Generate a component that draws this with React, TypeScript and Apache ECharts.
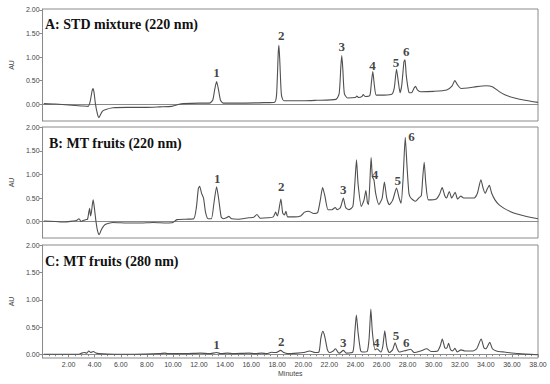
import React, { useEffect, useRef } from "react";
import * as echarts from "echarts";

// Chromatogram traces: [retention time (min), absorbance (AU)]
const stdMixture220: [number, number][] = [
  [0.1, 0.01], [1.0, 0.0], [2.0, -0.02], [3.0, -0.04], [3.5, -0.05], [3.65, 0.05], [3.8, 0.28], [3.87, 0.33],
  [3.95, 0.25], [4.05, 0.02], [4.2, -0.2], [4.33, -0.29], [4.45, -0.22], [4.6, -0.15], [4.8, -0.12], [5.4, -0.08],
  [6.5, -0.07], [8.0, -0.07], [9.0, -0.06], [9.9, -0.05], [10.4, -0.01], [10.8, 0.01], [12.0, 0.02], [12.8, 0.02],
  [13.05, 0.08], [13.2, 0.3], [13.35, 0.48], [13.5, 0.3], [13.65, 0.08], [13.85, 0.02], [15.0, 0.02], [17.0, 0.03],
  [17.8, 0.04], [17.95, 0.2], [18.08, 1.1], [18.13, 1.25], [18.2, 0.9], [18.32, 0.2], [18.5, 0.07], [20.0, 0.07],
  [21.0, 0.08], [22.5, 0.1], [22.75, 0.22], [22.88, 0.8], [22.95, 1.03], [23.03, 0.75], [23.15, 0.22], [23.4, 0.13],
  [24.0, 0.14], [24.1, 0.17], [24.25, 0.14], [24.5, 0.16], [24.6, 0.2], [24.75, 0.16], [25.1, 0.18], [25.22, 0.45],
  [25.33, 0.69], [25.45, 0.4], [25.6, 0.19], [26.2, 0.19], [26.8, 0.21], [26.98, 0.35], [27.15, 0.74], [27.3, 0.45],
  [27.42, 0.24], [27.55, 0.4], [27.72, 0.9], [27.8, 0.94], [27.9, 0.6], [28.1, 0.25], [28.3, 0.24], [28.5, 0.34],
  [28.6, 0.38], [28.75, 0.3], [29.0, 0.26], [30.0, 0.27], [31.0, 0.3], [31.4, 0.38], [31.62, 0.5], [31.8, 0.42],
  [32.1, 0.33], [32.6, 0.34], [33.3, 0.37], [34.0, 0.39], [34.5, 0.37], [35.0, 0.27], [35.5, 0.19], [36.2, 0.13],
  [37.0, 0.08], [38.0, 0.035],
];

const mtFruits220: [number, number][] = [
  [0.1, 0.01], [1.0, 0.0], [1.7, -0.01], [2.3, 0.01], [2.6, 0.02], [2.8, 0.06], [2.95, 0.0], [3.1, 0.02],
  [3.3, 0.04], [3.45, 0.05], [3.55, 0.2], [3.61, 0.28], [3.68, 0.12], [3.75, 0.2], [3.88, 0.46], [3.95, 0.35],
  [4.1, 0.0], [4.22, -0.2], [4.35, -0.28], [4.5, -0.18], [4.78, -0.07], [5.4, -0.02], [6.5, -0.03], [7.5, -0.03],
  [8.5, -0.02], [9.5, -0.03], [10.0, -0.02], [10.3, 0.04], [11.0, 0.05], [11.6, 0.06], [11.8, 0.3], [11.95, 0.7],
  [12.05, 0.75], [12.2, 0.6], [12.35, 0.5], [12.5, 0.2], [12.7, 0.06], [12.95, 0.06], [13.15, 0.4], [13.35, 0.74],
  [13.5, 0.5], [13.7, 0.1], [13.85, 0.06], [14.1, 0.08], [14.28, 0.11], [14.5, 0.06], [15.0, 0.05], [15.8, 0.08],
  [16.2, 0.09], [16.44, 0.15], [16.7, 0.07], [17.3, 0.08], [17.7, 0.1], [17.88, 0.2], [18.0, 0.12], [18.1, 0.2],
  [18.28, 0.48], [18.42, 0.18], [18.55, 0.14], [18.67, 0.22], [18.8, 0.1], [19.3, 0.1], [19.8, 0.12], [20.1, 0.2],
  [20.4, 0.22], [20.8, 0.17], [21.1, 0.19], [21.3, 0.45], [21.48, 0.72], [21.65, 0.55], [21.9, 0.25], [22.2, 0.25],
  [22.45, 0.3], [22.6, 0.25], [22.85, 0.3], [23.07, 0.5], [23.25, 0.3], [23.5, 0.25], [23.8, 0.32], [23.95, 0.8],
  [24.08, 1.31], [24.2, 0.8], [24.45, 0.32], [24.65, 0.45], [24.8, 0.66], [24.92, 0.4], [25.0, 0.36], [25.1, 0.8],
  [25.2, 1.36], [25.3, 0.95], [25.42, 0.88], [25.55, 0.6], [25.8, 0.36], [26.05, 0.5], [26.22, 0.84], [26.4, 0.5],
  [26.6, 0.36], [26.85, 0.45], [27.15, 0.71], [27.35, 0.5], [27.5, 0.39], [27.65, 0.9], [27.82, 1.79], [27.95, 1.2],
  [28.1, 0.6], [28.25, 0.5], [28.6, 0.43], [28.85, 0.5], [29.05, 0.55], [29.15, 0.9], [29.27, 1.26], [29.4, 0.8],
  [29.6, 0.46], [30.2, 0.48], [30.45, 0.58], [30.65, 0.72], [30.85, 0.55], [30.98, 0.5], [31.2, 0.64], [31.38, 0.5],
  [31.65, 0.62], [31.83, 0.48], [32.08, 0.54], [32.3, 0.5], [33.1, 0.5], [33.35, 0.6], [33.62, 0.89], [33.8, 0.7],
  [33.95, 0.6], [34.12, 0.7], [34.27, 0.77], [34.45, 0.6], [34.7, 0.46], [35.0, 0.36], [35.4, 0.28], [35.9, 0.21],
  [36.4, 0.16], [37.2, 0.1], [38.0, 0.06],
];

const mtFruits280: [number, number][] = [
  [0.1, 0.0], [1.5, 0.0], [2.8, 0.0], [3.0, 0.02], [3.2, 0.03], [3.4, 0.02], [3.54, 0.06], [3.7, 0.03],
  [3.9, 0.05], [4.1, 0.02], [4.3, 0.01], [5.5, 0.0], [7.0, 0.0], [9.0, 0.01], [9.37, 0.02], [9.6, 0.01],
  [11.0, 0.01], [12.1, 0.02], [12.8, 0.01], [13.35, 0.03], [13.7, 0.01], [14.2, 0.02], [14.6, 0.01], [15.8, 0.02],
  [16.3, 0.01], [16.8, 0.02], [17.2, 0.01], [17.56, 0.035], [17.9, 0.03], [18.26, 0.07], [18.5, 0.03], [18.8, 0.01],
  [19.55, 0.02], [20.0, 0.03], [20.5, 0.06], [20.9, 0.03], [21.2, 0.04], [21.35, 0.3], [21.5, 0.42], [21.65, 0.32],
  [21.85, 0.08], [22.0, 0.03], [22.3, 0.06], [22.47, 0.1], [22.65, 0.04], [22.77, 0.02], [23.07, 0.07], [23.3, 0.02],
  [23.8, 0.04], [23.95, 0.4], [24.07, 0.72], [24.2, 0.4], [24.4, 0.06], [24.56, 0.04], [24.9, 0.05], [25.05, 0.3],
  [25.18, 0.83], [25.3, 0.4], [25.5, 0.08], [25.65, 0.1], [25.95, 0.04], [26.1, 0.15], [26.25, 0.43], [26.4, 0.15],
  [26.6, 0.03], [26.85, 0.08], [27.04, 0.21], [27.2, 0.1], [27.36, 0.04], [27.9, 0.07], [28.23, 0.09], [28.5, 0.03],
  [29.0, 0.06], [29.47, 0.1], [29.8, 0.05], [30.3, 0.06], [30.5, 0.15], [30.66, 0.28], [30.85, 0.12], [31.0, 0.11],
  [31.14, 0.2], [31.3, 0.08], [31.45, 0.06], [31.63, 0.11], [31.8, 0.04], [32.1, 0.08], [32.4, 0.06], [33.0, 0.06],
  [33.3, 0.1], [33.64, 0.28], [33.85, 0.12], [34.0, 0.1], [34.3, 0.22], [34.5, 0.1], [34.8, 0.06], [35.4, 0.04],
  [36.5, 0.01], [38.0, -0.01],
];

// Peak annotations: [time, AU, label]
const peaksA: [number, number, string][] = [
  [13.35, 0.68, "1"], [18.3, 1.45, "2"], [22.95, 1.22, "3"], [25.3, 0.83, "4"], [27.1, 0.88, "5"], [27.9, 1.11, "6"],
];
const peaksB: [number, number, string][] = [
  [13.4, 0.92, "1"], [18.3, 0.74, "2"], [23.07, 0.69, "3"], [25.5, 1.01, "4"], [27.25, 0.87, "5"], [28.3, 1.8, "6"],
];
const peaksC: [number, number, string][] = [
  [13.35, 0.17, "1"], [18.3, 0.23, "2"], [23.07, 0.21, "3"], [25.6, 0.22, "4"], [27.1, 0.34, "5"], [27.9, 0.22, "6"],
];

const panelTitles = ["A: STD mixture (220 nm)", "B: MT fruits (220 nm)", "C: MT fruits (280 nm)"];
const yTickValues = [0, 0.5, 1, 1.5, 2];
const yRanges: [number, number][] = [[-0.36, 2.02], [-0.35, 2.01], [-0.07, 2.01]];
const xAxisName = "Minutes";
const yAxisName = "AU";

export default function App() {
  const ref = useRef<HTMLDivElement>(null);
  useEffect(() => {
    if (!ref.current) return;
    const chart = echarts.init(ref.current, null, { renderer: "svg" });
    const grids = [
      { left: 28, right: 12, top: 9, height: 112 },
      { left: 28, right: 12, top: 127, height: 111 },
      { left: 28, right: 12, top: 245, height: 113 },
    ];
    const frame = "#8a8a8a";
    const lineColor = "#505050";
    const labelFont = { fontFamily: "Liberation Sans, Arial, sans-serif", fontSize: 7, color: "#444" };
    const traces = [stdMixture220, mtFruits220, mtFruits280];
    const peaks = [peaksA, peaksB, peaksC];
    const titleX = [45, 49, 45];
    const titleTop = [17, 136, 254];

    const option: any = {
      animation: false,
      backgroundColor: "#fff",
      title: panelTitles.map((t, i) => ({
        text: t,
        left: titleX[i],
        top: titleTop[i],
        padding: 0,
        textStyle: { fontFamily: "Liberation Serif, Times New Roman, serif", fontWeight: "bold", fontSize: 14, color: "#111" },
      })),
      grid: grids.map((g) => ({ ...g, show: true, borderColor: frame, borderWidth: 1, backgroundColor: "#fff" })),
      xAxis: grids.map((_, i) => ({
        type: "value",
        gridIndex: i,
        min: 0,
        max: 38,
        interval: 2,
        position: "bottom",
        name: i === 2 ? xAxisName : "",
        nameLocation: "middle",
        nameGap: 12,
        nameTextStyle: labelFont,
        axisLine: { show: true, lineStyle: { color: frame } },
        axisTick: { show: i === 2, length: 3, lineStyle: { color: frame } },
        minorTick: { show: i === 2, splitNumber: 4, length: 2, lineStyle: { color: frame } },
        axisLabel: {
          show: i === 2,
          ...labelFont,
          margin: 3,
          formatter: (v: number) => (v === 0 ? "" : v.toFixed(2)),
        },
        splitLine: { show: false },
      })),
      yAxis: grids.map((_, i) => ({
        type: "value",
        gridIndex: i,
        min: yRanges[i][0],
        max: yRanges[i][1],
        name: yAxisName,
        nameLocation: "middle",
        nameRotate: 90,
        nameGap: 19,
        nameTextStyle: labelFont,
        axisLine: { show: true, lineStyle: { color: frame } },
        axisTick: { show: true, length: 3, customValues: yTickValues, lineStyle: { color: frame } },
        axisLabel: {
          ...labelFont,
          margin: 3,
          customValues: yTickValues,
          formatter: (v: number) => v.toFixed(2),
        },
        splitLine: { show: false },
      })),
      series: [
        ...traces.map((d, i) => ({
          type: "line",
          xAxisIndex: i,
          yAxisIndex: i,
          data: d,
          showSymbol: false,
          smooth: 0.2,
          lineStyle: { color: lineColor, width: 1.1 },
          silent: true,
        })),
        ...peaks.map((p, i) => ({
          type: "scatter",
          xAxisIndex: i,
          yAxisIndex: i,
          symbolSize: 1,
          itemStyle: { color: "rgba(0,0,0,0)" },
          data: p.map(([t, v, n]) => ({ value: [t, v], name: n })),
          label: {
            show: true,
            position: "inside",
            formatter: "{b}",
            fontFamily: "Liberation Serif, Times New Roman, serif",
            fontWeight: "bold",
            fontSize: 13,
            color: "#111",
          },
          silent: true,
        })),
      ],
    };
    chart.setOption(option);
    return () => chart.dispose();
  }, []);
  return (
    <div
      ref={ref}
      style={{ position: "fixed", left: 0, top: 0, width: 550, height: 384, background: "#fff" }}
    />
  );
}
